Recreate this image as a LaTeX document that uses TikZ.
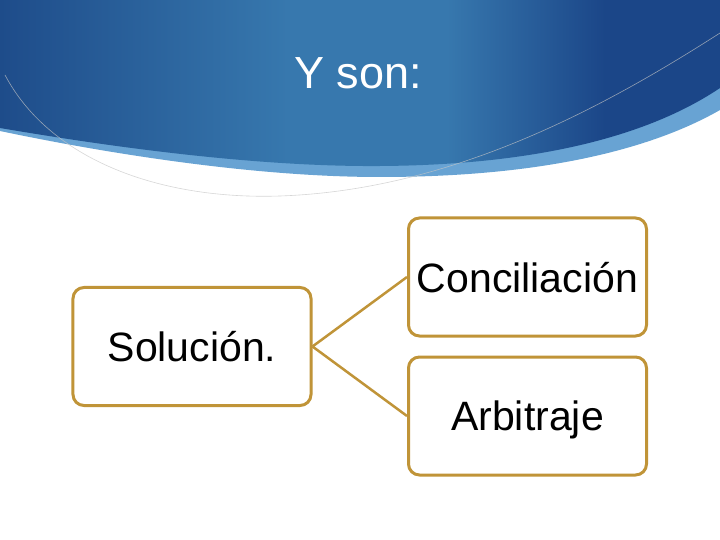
\documentclass[tikz,border=0pt]{standalone}
\usepackage{fontspec}
\setmainfont{Liberation Sans}
\usepackage{xcolor}
\usepackage{tikz}

\definecolor{hdark}{RGB}{30,76,138}
\definecolor{hmid}{RGB}{55,120,174}
\definecolor{hdarkr}{RGB}{27,70,136}
\definecolor{hband}{RGB}{104,163,211}
\definecolor{gold}{RGB}{192,148,56}

\pgfdeclarehorizontalshading{headershade}{100bp}{color(0bp)=(hdark); color(25bp)=(hdark);
  color(45bp)=(hmid); color(56bp)=(hmid); color(67bp)=(hdarkr); color(75bp)=(hdarkr); color(100bp)=(hdarkr)}

\begin{document}
\begin{tikzpicture}[x=1bp, y=-1bp,
    box/.style={rectangle, draw=gold, line width=3bp, rounded corners=11bp, fill=white,
                minimum width=238bp, minimum height=118bp, inner sep=0pt,
                text depth=0pt, font=\fontsize{41bp}{49bp}\selectfont},
    link/.style={draw=gold, line width=2.5bp},
    title/.style={text=white, font=\fontsize{45bp}{54bp}\selectfont}
  ]

  % Page
  \fill[white] (0,0) rectangle (720,540);
  \useasboundingbox (0,0) rectangle (720,540);

  % Header wave
  \fill[hband] (0,0) -- (720,0) -- (720,110)
    .. controls (650,150) and (540,177) .. (380,177)
    .. controls (250,177) and (100,152) .. (0,131) -- cycle;
  \shade[shading=headershade] (0,0) -- (720,0) -- (720,88)
    .. controls (650,135) and (540,165) .. (380,166)
    .. controls (250,167) and (100,145) .. (0,128) -- cycle;
  \draw[gray!45, opacity=0.7, line width=0.6bp] (5,75)
    .. controls (50,160) and (160,200) .. (280,196)
    .. controls (450,190) and (600,110) .. (720,33);

  % Title
  \node[title, anchor=base] (ttl) at (358,89) {Y son:};

  % Boxes
  \node[box] (sol) at (192,346.5) {Solución.};
  \node[box] (conc) at (527.5,277) {Conciliación};
  \node[box] (arb) at (527.5,416) {Arbitraje};

  \draw[link] (sol.east) -- (conc.west);
  \draw[link] (sol.east) -- (arb.west);

\end{tikzpicture}
\end{document}
